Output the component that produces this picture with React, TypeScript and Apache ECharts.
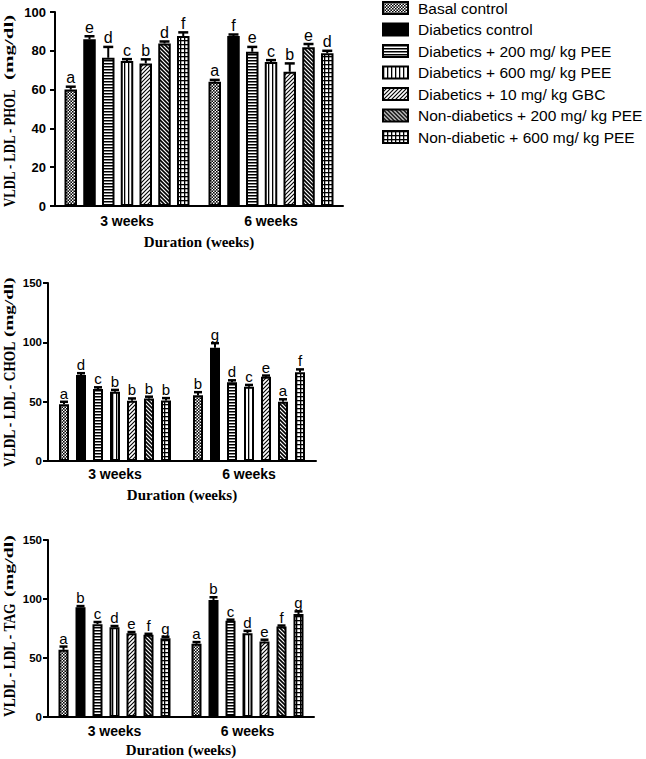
import React, { useEffect, useRef } from 'react';
import * as echarts from 'echarts';

const durations = ['3 weeks', '6 weeks'];
const groups = [
  'Basal control',
  'Diabetics control',
  'Diabetics + 200 mg/ kg PEE',
  'Diabetics + 600 mg/ kg PEE',
  'Diabetics + 10 mg/ kg GBC',
  'Non-diabetics + 200 mg/ kg PEE',
  'Non-diabetic + 600 mg/ kg PEE',
];

// values per group: [3 weeks, 6 weeks]
const pholMeans = [[60, 64], [86, 87.6], [76.4, 79.5], [74.7, 74.2], [73.5, 69.2], [83.8, 81.8], [87.6, 78.7]];
const pholErrors = [[1.5, 1], [1.5, 0.8], [5.6, 2.5], [1, 1], [2.1, 4.3], [1, 1.7], [1.9, 1.3]];
const pholLetters = [['a', 'a'], ['e', 'f'], ['d', 'e'], ['c', 'c'], ['b', 'b'], ['d', 'e'], ['f', 'd']];

const cholMeans = [[47.9, 55.5], [72.5, 95.5], [60.6, 66.3], [58.4, 62.6], [50.7, 71], [52.7, 50], [51, 74.7]];
const cholErrors = [[2, 2.5], [1.5, 3.8], [1.5, 1.7], [1.5, 1.5], [2, 1], [1.5, 2], [2, 2.5]];
const cholLetters = [['a', 'b'], ['d', 'g'], ['c', 'd'], ['b', 'c'], ['b', 'e'], ['b', 'a'], ['b', 'f']];

const tagMeans = [[56.9, 62], [93, 99.2], [78.7, 81.5], [76.1, 71], [71, 64], [69.6, 76.7], [66.8, 87.2]];
const tagErrors = [[2.8, 1.5], [1, 2.3], [1.8, 1], [1, 2], [1, 1.5], [0.9, 0.8], [1.2, 2.3]];
const tagLetters = [['a', 'a'], ['b', 'b'], ['c', 'c'], ['d', 'd'], ['e', 'e'], ['f', 'f'], ['g', 'g']];

const pholTicks = { max: 100, interval: 20 };
const cholTicks = { max: 150, interval: 50 };
const tagTicks = { max: 150, interval: 50 };

const SANS = '"Liberation Sans", Arial, sans-serif';
const SERIF = '"Liberation Serif", "Times New Roman", serif';

function tile(w: number, h: number, draw: (ctx: CanvasRenderingContext2D) => void) {
  const c = document.createElement('canvas');
  c.width = w * 4;
  c.height = h * 4;
  const ctx = c.getContext('2d')!;
  ctx.scale(4, 4);
  ctx.fillStyle = '#fff';
  ctx.fillRect(0, 0, w, h);
  ctx.fillStyle = '#000';
  ctx.strokeStyle = '#000';
  draw(ctx);
  return { image: c.toDataURL(), repeat: 'repeat', imageWidth: w, imageHeight: h } as any;
}

function makePatterns() {
  const dots = tile(3, 3, (ctx) => {
    const pts = [[0.75, 0.75], [2.25, 2.25]];
    pts.forEach(([x, y]) => {
      ctx.beginPath();
      ctx.arc(x, y, 0.9, 0, Math.PI * 2);
      ctx.fill();
    });
  });
  const hstripes = tile(3, 3, (ctx) => {
    ctx.fillRect(0, 0, 3, 1.5);
  });
  const vstripes = tile(4, 4, (ctx) => {
    ctx.fillRect(0, 0, 1.3, 4);
  });
  const fwd = tile(4, 4, (ctx) => {
    ctx.lineWidth = 1.1;
    ctx.beginPath();
    ctx.moveTo(0, 4); ctx.lineTo(4, 0);
    ctx.moveTo(-1, 1); ctx.lineTo(1, -1);
    ctx.moveTo(3, 5); ctx.lineTo(5, 3);
    ctx.stroke();
  });
  const back = tile(4, 4, (ctx) => {
    ctx.lineWidth = 1.7;
    ctx.beginPath();
    ctx.moveTo(0, 0); ctx.lineTo(4, 4);
    ctx.moveTo(-1, 3); ctx.lineTo(1, 5);
    ctx.moveTo(3, -1); ctx.lineTo(5, 1);
    ctx.stroke();
  });
  const grid = tile(4, 4, (ctx) => {
    ctx.fillRect(0, 0, 4, 1.3);
    ctx.fillRect(0, 0, 1.3, 4);
  });
  return [dots, '#000', hstripes, vstripes, fwd, back, grid];
}

const panels = [
  {
    means: pholMeans, errors: pholErrors, letters: pholLetters, ticks: pholTicks,
    grid: { left: 55, top: 12, width: 288, height: 194 },
    barWidth: 12.5, barGap: '50%', cap: 5, tickFont: 13, letterFont: 16, labelMargin: 9, catMargin: 8, nameGap: 28,
    title: 'VLDL - LDL - PHOL', titleY: 207, titleScale: 0.75, unitY: 80, unitScale: 1.75,
  },
  {
    means: cholMeans, errors: cholErrors, letters: cholLetters, ticks: cholTicks,
    grid: { left: 48, top: 283, width: 268, height: 178 },
    barWidth: 10, barGap: '70%', cap: 4, tickFont: 11.5, letterFont: 15, labelMargin: 6, catMargin: 6, nameGap: 26,
    title: 'VLDL - LDL - CHOL', titleY: 467, titleScale: 0.79, unitY: 337, unitScale: 1.6,
  },
  {
    means: tagMeans, errors: tagErrors, letters: tagLetters, ticks: tagTicks,
    grid: { left: 48, top: 540, width: 266, height: 177 },
    barWidth: 10, barGap: '70%', cap: 4, tickFont: 11.5, letterFont: 15, labelMargin: 6, catMargin: 7, nameGap: 25,
    title: 'VLDL - LDL - TAG', titleY: 717, titleScale: 0.79, unitY: 597, unitScale: 1.66,
  },
];

function buildOption() {
  const patterns = makePatterns();
  const grids: any[] = [];
  const xAxes: any[] = [];
  const yAxes: any[] = [];
  const series: any[] = [];
  const graphics: any[] = [];

  panels.forEach((p, pi) => {
    grids.push({ ...p.grid, containLabel: false });
    xAxes.push({
      type: 'category',
      gridIndex: pi,
      data: durations,
      axisLine: { lineStyle: { color: '#000', width: 2 } },
      axisTick: { alignWithLabel: true, length: 5, lineStyle: { color: '#000', width: 2 } },
      axisLabel: { color: '#000', fontFamily: SANS, fontWeight: 'bold', fontSize: 14, margin: p.catMargin },
      name: 'Duration (weeks)',
      nameLocation: 'middle',
      nameGap: p.nameGap,
      nameTextStyle: { color: '#000', fontFamily: SERIF, fontWeight: 'bold', fontSize: 15 },
    });
    yAxes.push({
      type: 'value',
      gridIndex: pi,
      min: 0,
      max: p.ticks.max,
      interval: p.ticks.interval,
      splitLine: { show: false },
      axisLine: { show: true, lineStyle: { color: '#000', width: 2 } },
      axisTick: { show: true, length: 5, lineStyle: { color: '#000', width: 2 } },
      axisLabel: { color: '#000', fontFamily: SANS, fontWeight: 'bold', fontSize: p.tickFont, margin: p.labelMargin },
    });
    const pitch = p.barWidth * (1 + parseFloat(p.barGap) / 100);
    groups.forEach((g, gi) => {
      series.push({
        type: 'bar',
        name: g,
        xAxisIndex: pi,
        yAxisIndex: pi,
        data: p.means[gi],
        barWidth: p.barWidth,
        barGap: p.barGap,
        itemStyle: { color: patterns[gi], borderColor: '#000', borderWidth: 2 },
        emphasis: { disabled: true },
      });
    });
    const errData: number[][] = [];
    const letterList: string[] = [];
    groups.forEach((_, gi) => {
      durations.forEach((__, ci) => {
        errData.push([ci, gi, p.means[gi][ci], p.errors[gi][ci]]);
        letterList.push(p.letters[gi][ci]);
      });
    });
    series.push({
      type: 'custom',
      xAxisIndex: pi,
      yAxisIndex: pi,
      data: errData,
      encode: { x: 0, y: 2 },
      z: 5,
      silent: true,
      renderItem: (params: any, api: any) => {
        const c = api.value(0);
        const s = api.value(1);
        const m = api.value(2);
        const e = api.value(3);
        const base = api.coord([c, m]);
        const top = api.coord([c, m + e]);
        const x = base[0] + (s - 3) * pitch;
        return {
          type: 'group',
          children: [
            { type: 'line', shape: { x1: x, y1: base[1], x2: x, y2: top[1] }, style: { stroke: '#000', lineWidth: 2 } },
            { type: 'line', shape: { x1: x - p.cap, y1: top[1], x2: x + p.cap, y2: top[1] }, style: { stroke: '#000', lineWidth: 2.5 } },
            {
              type: 'text', x, y: top[1] - 1,
              style: {
                text: letterList[params.dataIndex], fill: '#000', fontFamily: SANS, fontSize: p.letterFont,
                align: 'center', verticalAlign: 'bottom',
              },
            },
          ],
        };
      },
    });
    graphics.push({
      type: 'text', x: 9, y: p.titleY, rotation: Math.PI / 2, scaleX: p.titleScale,
      style: { text: p.title, fill: '#000', font: `bold 17px ${SERIF}`, align: 'left', verticalAlign: 'middle' },
    });
    graphics.push({
      type: 'text', x: 9, y: p.unitY, rotation: Math.PI / 2, scaleX: p.unitScale,
      style: { text: '(mg/dl)', fill: '#000', font: `bold 12px ${SERIF}`, align: 'left', verticalAlign: 'middle' },
    });
  });

  return {
    animation: false,
    backgroundColor: '#fff',
    grid: grids,
    xAxis: xAxes,
    yAxis: yAxes,
    series,
    graphic: graphics,
    legend: {
      data: groups,
      left: 382,
      top: 0,
      orient: 'vertical',
      padding: 0,
      itemWidth: 25,
      itemHeight: 12,
      itemGap: 5.5,
      icon: 'rect',
      selectedMode: false,
      textStyle: { color: '#000', fontFamily: SANS, fontSize: 15.5, padding: [0, 0, 0, 5] },
    },
  };
}

export default function App() {
  const ref = useRef<HTMLDivElement>(null);
  useEffect(() => {
    if (!ref.current) return;
    const chart = echarts.init(ref.current, undefined, { renderer: 'svg' });
    chart.setOption(buildOption() as any);
    return () => chart.dispose();
  }, []);
  return <div ref={ref} style={{ position: 'absolute', left: 0, top: 0, width: 646, height: 759 }} />;
}
